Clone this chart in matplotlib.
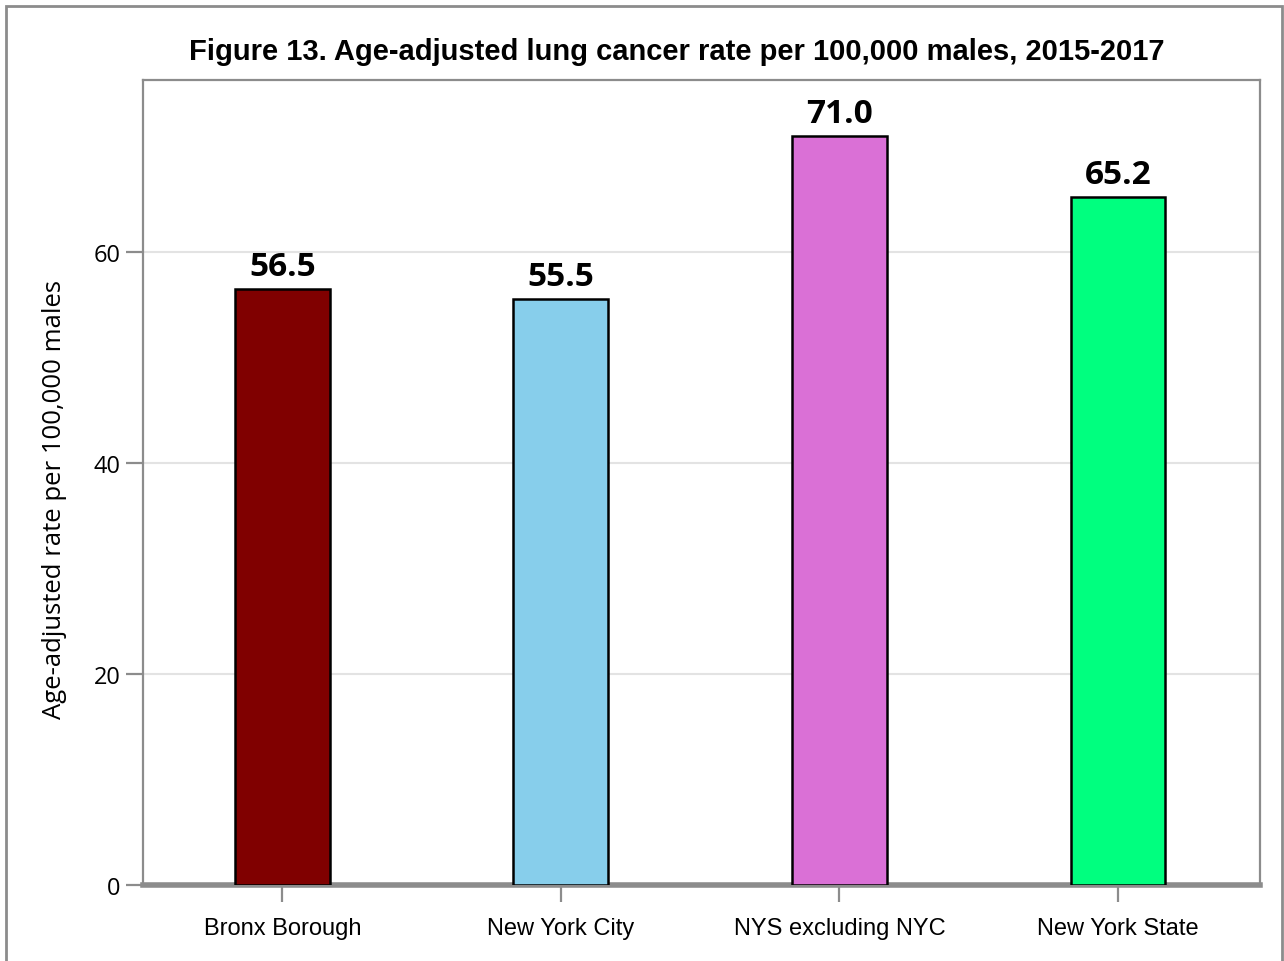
import matplotlib
matplotlib.use("Agg")
import matplotlib.pyplot as plt
from matplotlib.patches import Rectangle

regions = ["Bronx Borough", "New York City", "NYS excluding NYC", "New York State"]
rates = [56.5, 55.5, 71.0, 65.2]
colors = ["#800000", "#87CEEB", "#DA70D6", "#00FF7F"]
yticks = [0, 20, 40, 60]

fig = plt.figure(figsize=(12.84, 9.62), dpi=100)
ax = fig.add_axes([143 / 1284, 1 - 886 / 962, (1260 - 143) / 1284, (886 - 81) / 962])

# grey frame round the whole figure
fig.patches.append(Rectangle((6 / 1284, -0.05), (1282 - 6) / 1284, 1.05 - 7 / 962,
                             transform=fig.transFigure, fill=False,
                             edgecolor="#8c8c8c", linewidth=2))

x = range(len(regions))
ax.bar(x, rates, width=0.34, color=colors, edgecolor="black", linewidth=1.8, zorder=3)

for i, v in zip(x, rates):
    ax.text(i, v + 0.6, f"{v:.1f}", ha="center", va="bottom",
            fontsize=24, fontweight="bold", family="Open Sans")

ax.set_xlim(-0.5, 3.51)
ax.set_ylim(0, 76.3)
ax.set_xticks(list(x))
ax.set_xticklabels(regions, family="Liberation Sans", fontsize=17)
ax.set_yticks(yticks)
ax.set_yticklabels([str(t) for t in yticks], family="Open Sans", fontsize=17)
ax.set_ylabel("Age-adjusted rate per 100,000 males", family="Open Sans", fontsize=18.5)
ax.yaxis.set_label_coords(-0.068, 0.48)

ax.grid(axis="y", color="#e3e3e3", linewidth=1.5, zorder=0)
for side in ["left", "top", "right"]:
    ax.spines[side].set_color("#8c8c8c")
    ax.spines[side].set_linewidth(1.6)
ax.spines["bottom"].set_color("#8c8c8c")
ax.spines["bottom"].set_linewidth(4)
ax.tick_params(axis="y", length=12, width=1.6, color="#8c8c8c", pad=4)
ax.tick_params(axis="x", length=12, width=1.6, color="#8c8c8c", pad=11)

fig.text(677 / 1284, 1 - 52 / 962, "Figure 13. Age-adjusted lung cancer rate per 100,000 males, 2015-2017",
         ha="center", va="center", family="Liberation Sans", fontweight="bold", fontsize=21)

fig.savefig("out.png", dpi=100)
